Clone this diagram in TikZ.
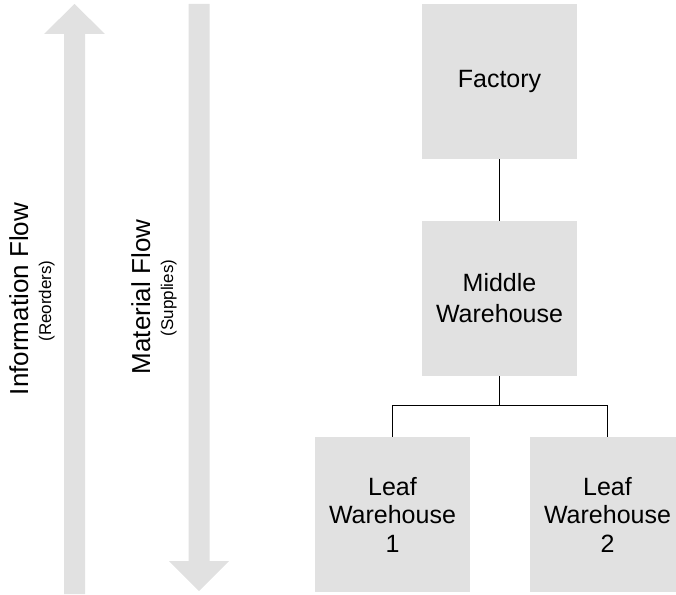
\documentclass[tikz,border=0pt]{standalone}
\usepackage{fontspec}
\setmainfont{Liberation Sans}
\definecolor{boxgray}{HTML}{E1E1E1}
\begin{document}
\begin{tikzpicture}[x=1pt,y=-1pt,
  box/.style={fill=boxgray,draw=none,minimum width=155pt,minimum height=155pt,inner sep=0pt,align=center,font=\fontsize{25}{31}\selectfont},
  leafbox/.style={box,font=\fontsize{25}{28.5}\selectfont},
  bigtext/.style={rotate=90,anchor=base,font=\fontsize{26}{30}\selectfont},
  smalltext/.style={rotate=90,anchor=base,font=\fontsize{17}{20}\selectfont},
  link/.style={draw=black,line width=1pt}]
\useasboundingbox (0,0) rectangle (676,594);
\clip (0,0) rectangle (676,594);
% flow arrows
\fill[boxgray] (74.5,4) -- (105,34) -- (85,34) -- (85,594) -- (64,594) -- (64,34) -- (44,34) -- cycle;
\fill[boxgray] (188.5,4) -- (209.5,4) -- (209.5,561) -- (229,561) -- (199,591) -- (169,561) -- (188.5,561) -- cycle;
\node[bigtext] (info) at (28,299) {Information Flow};
\node[smalltext] (reord) at (51,301) {(Reorders)};
\node[bigtext] (mat) at (150,297) {Material Flow};
\node[smalltext] (supp) at (173,298) {(Supplies)};
% boxes
\node[box] (factory) at (499.5,81.5) {Factory};
\node[box] (middle) at (499.5,298.5) {Middle\\Warehouse};
\node[leafbox] (leaf1) at (392.5,514.5) {Leaf\\Warehouse\\1};
\node[leafbox] (leaf2) at (607.5,514.5) {Leaf\\Warehouse\\2};
% connectors
\draw[link] (factory.south) -- (middle.north);
\draw[link] (middle.south) -- ++(0,30);
\draw[link] (leaf1.north) -- ++(0,-31) -| (leaf2.north);
\end{tikzpicture}
\end{document}
